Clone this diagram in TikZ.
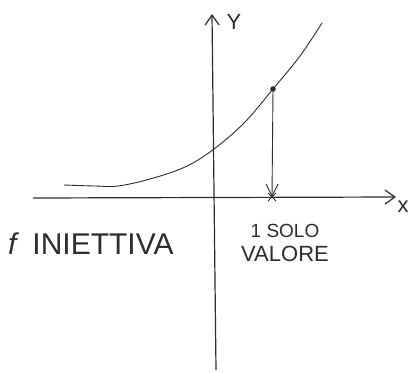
\documentclass[tikz,border=0pt]{standalone}
\usepackage{fontspec}
\setmainfont{Liberation Sans}
\usetikzlibrary{positioning,arrows.meta}
\definecolor{pencil}{RGB}{45,45,45}

\begin{document}
\begin{tikzpicture}[x=1pt,y=-1pt,
    axisline/.style={draw=pencil, line width=1.2pt, -{Straight Barb[length=10pt,width=14pt]}},
    graphline/.style={draw=pencil, line width=0.9pt},
    dropline/.style={draw=pencil, line width=0.9pt, -{Straight Barb[length=12pt,width=12pt]}},
    hand/.style={text=pencil, inner sep=0pt}]
  \useasboundingbox[fill=white] (0,0) rectangle (409,372);
  % axes
  \coordinate (xstart) at (33,198);
  \coordinate (xend) at (396,197);
  \coordinate (ystart) at (216,370);
  \coordinate (yend) at (212,14);
  \draw[axisline] (xstart) -- (xend);
  \draw[axisline] (ystart) -- (yend);
  \node[hand, font=\fontsize{22}{24}\selectfont] (xlab) at (403,207) {x};
  \node[hand, font=\fontsize{22}{24}\selectfont] (ylab) at (234,22) {Y};
  % curve
  \coordinate (pt) at (273,89);
  \coordinate (foot) at (272,197);
  \draw[graphline] plot[smooth, tension=0.6] coordinates
    {(64,185) (95,186) (118,186) (150,179) (185,167) (214,149) (245,122) (273,89) (300,56) (322,23)};
  \fill[pencil] (pt) circle (2.8pt);
  \draw[dropline] (pt) -- (foot);
  \draw[pencil, line width=1pt] ([shift={(-4,-4)}]foot) -- ([shift={(4,4)}]foot)
    ([shift={(-4,4)}]foot) -- ([shift={(4,-4)}]foot);
  % labels
  \node[hand, anchor=west, font=\fontsize{30}{32}\selectfont] (iniettiva) at (8,244)
    {\textit{f}\, INIETTIVA};
  \node[hand, font=\fontsize{19}{21}\selectfont] (solo) at (285,231) {1 SOLO};
  \node[hand, font=\fontsize{22}{24}\selectfont, below=8pt of solo] (valore) {VALORE};
\end{tikzpicture}
\end{document}
